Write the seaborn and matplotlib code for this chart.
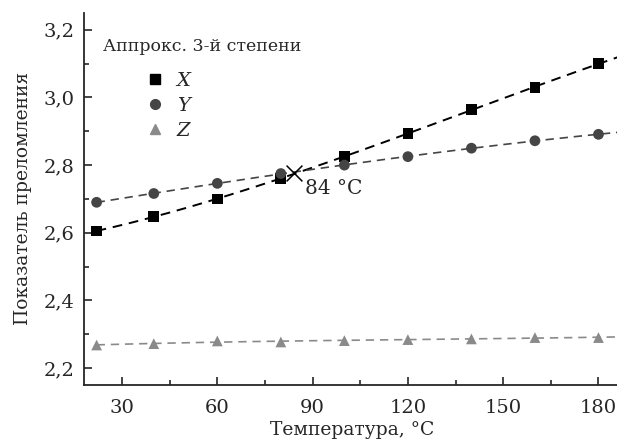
import numpy as np
import pandas as pd
import matplotlib
matplotlib.use("Agg")
import matplotlib.pyplot as plt
import seaborn as sns
from matplotlib.lines import Line2D

temps = [22, 40, 60, 80, 100, 120, 140, 160, 180]
x_vals = [2.605, 2.648, 2.700, 2.760, 2.826, 2.894, 2.964, 3.030, 3.100]
y_vals = [2.690, 2.716, 2.746, 2.775, 2.800, 2.825, 2.850, 2.872, 2.891]
z_vals = [2.268, 2.272, 2.280, 2.277, 2.281, 2.284, 2.286, 2.290, 2.290]
series_names = ["X", "Y", "Z"]
cross_t = 84
cross_n = 2.778
xticks = [30, 60, 90, 120, 150, 180]
yticks = [2.2, 2.4, 2.6, 2.8, 3.0, 3.2]

sns.set_style("ticks")
FAM = ["DejaVu Serif", "Liberation Serif"]
plt.rcParams["font.family"] = FAM
plt.rcParams["font.serif"] = FAM

df = pd.DataFrame({"T": temps * 3,
                   "n": x_vals + y_vals + z_vals,
                   "s": sum([[s] * len(temps) for s in series_names], [])})

colors = {"X": "#000000", "Y": "#454545", "Z": "#8a8a8a"}
markers = {"X": "s", "Y": "o", "Z": "^"}

fig = plt.figure(figsize=(6.17, 4.46), dpi=100)
ax = fig.add_axes([0.136, 0.137, 0.87, 0.834])

tt = np.linspace(temps[0], 190, 200)
for s, vals in zip(series_names, [x_vals, y_vals, z_vals]):
    coef = np.polyfit(temps, vals, 3)
    sns.lineplot(x=tt, y=np.polyval(coef, tt), ax=ax, color=colors[s],
                 linestyle=(0, (5, 3.5)), linewidth=1.4 if s == "X" else 1.2,
                 legend=False, zorder=2)

sns.scatterplot(data=df, x="T", y="n", hue="s", style="s",
                palette=colors, markers=markers, s=60, edgecolor="none",
                ax=ax, zorder=3, legend=False)

ax.scatter([cross_t], [cross_n], marker="x", s=130, color="black",
           linewidths=1.1, zorder=4)
ax.annotate("84 °C", (cross_t, cross_n), xytext=(8, -5),
            textcoords="offset points", ha="left", va="top", fontsize=14.5,
            family=FAM)

ax.text(0.035, 0.909, "Аппрокс. 3-й степени", transform=ax.transAxes,
        fontsize=12.5, family=FAM, ha="left", va="center")

handles = [Line2D([], [], marker=markers[s], color=colors[s], linestyle="none",
                  markersize=7) for s in series_names]
leg = ax.legend(handles, series_names, loc="upper left",
                bbox_to_anchor=(0.115, 0.841), frameon=False,
                prop={"family": FAM, "style": "italic", "size": 14},
                handlelength=1.0, handletextpad=0.6, labelspacing=0.36,
                borderaxespad=0.0, borderpad=0.0)

ax.set_xlim(18, 187)
ax.set_ylim(2.15, 3.25)
ax.set_xticks(xticks)
ax.set_yticks(yticks)
ax.set_xticks([45, 75, 105, 135, 165], minor=True)
ax.set_yticks([2.3, 2.5, 2.7, 2.9, 3.1], minor=True)
ax.set_xticklabels([str(v) for v in xticks], family=FAM)
ax.set_yticklabels([f"{v:.1f}".replace(".", ",") for v in yticks], family=FAM)
ax.tick_params(direction="in", which="major", length=6, width=1.2, labelsize=14)
ax.tick_params(direction="in", which="minor", length=3.5, width=1.2)
ax.tick_params(axis="y", pad=7)
ax.tick_params(axis="x", pad=10)
ax.set_xlabel("Температура, °C", fontsize=13.5, labelpad=3, family=FAM)
ax.set_ylabel("Показатель преломления", fontsize=13.5, labelpad=8, family=FAM)
sns.despine(ax=ax)
for sp in ["left", "bottom"]:
    ax.spines[sp].set_linewidth(1.3)

fig.savefig("out.png", dpi=100)
